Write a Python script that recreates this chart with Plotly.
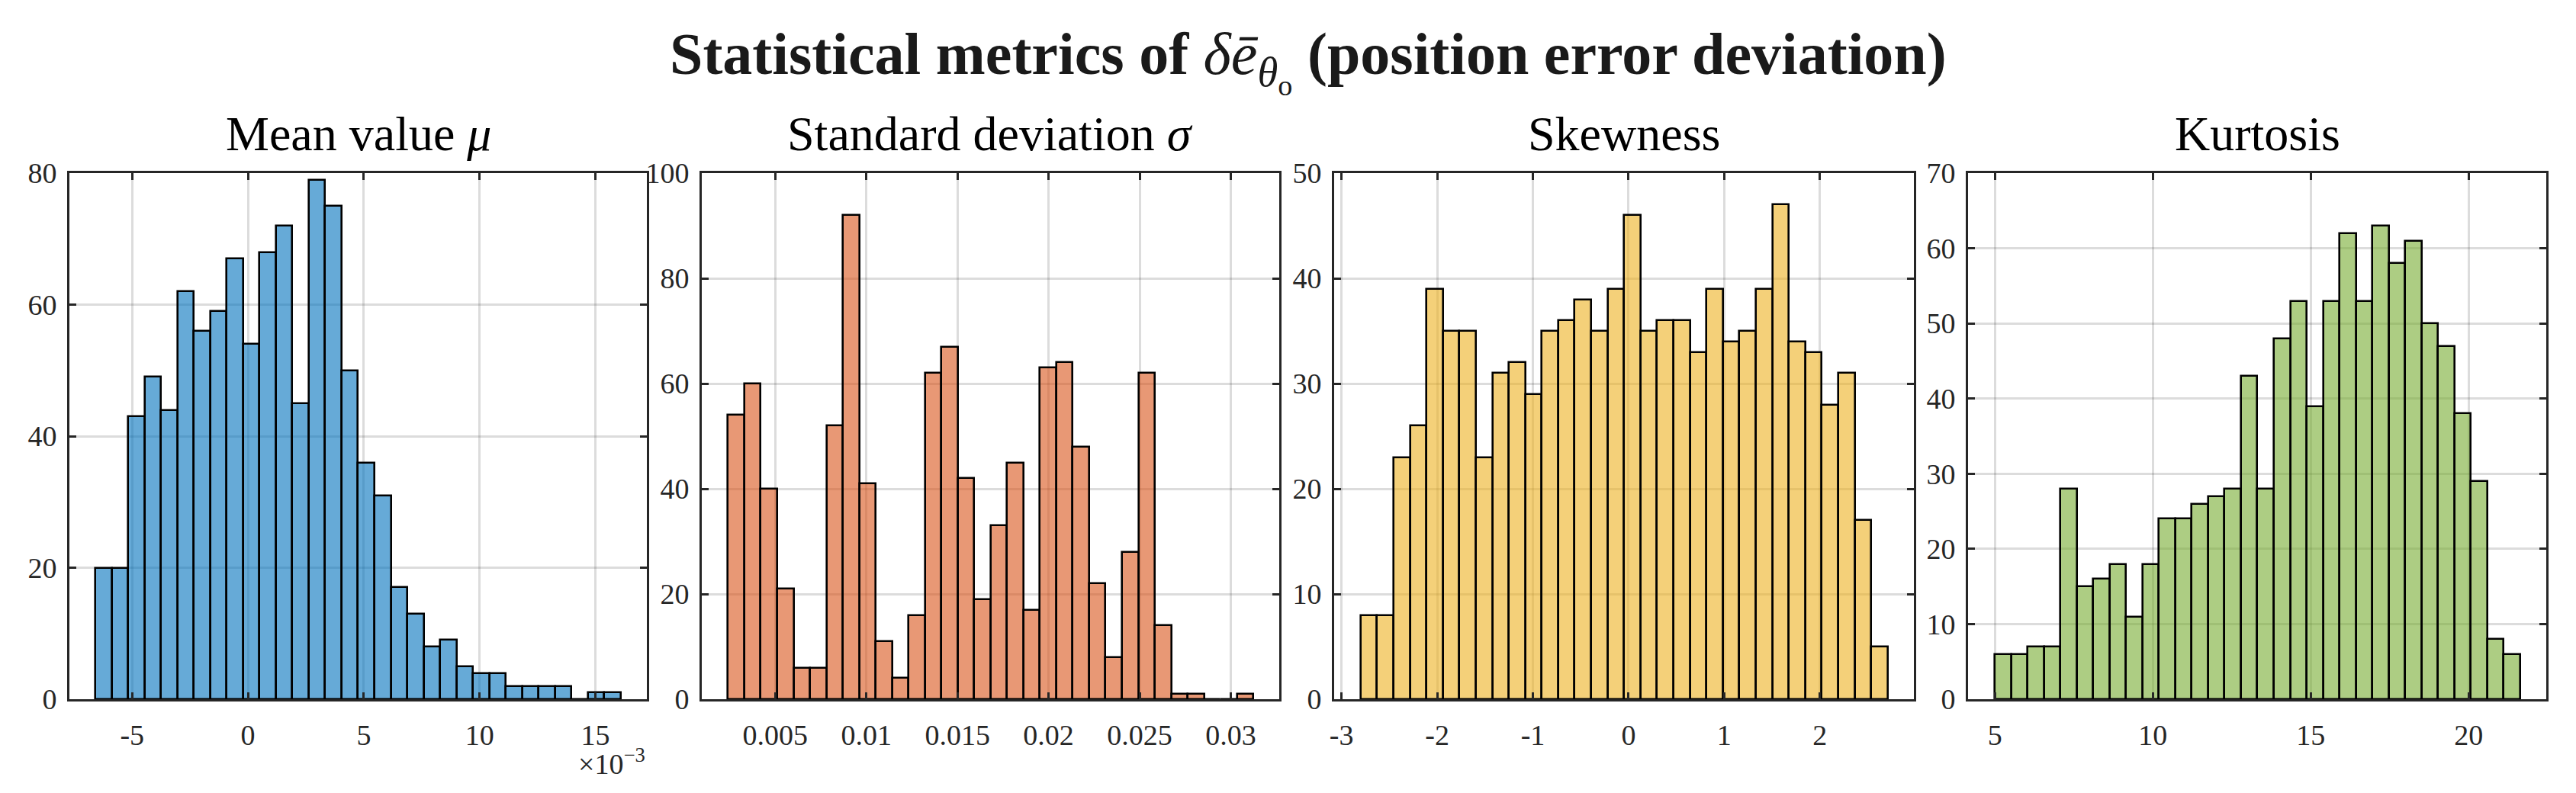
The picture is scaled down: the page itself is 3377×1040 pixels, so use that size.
import plotly.graph_objects as go

# ---------------- data ----------------
mean_bin_start = -0.00659
mean_bin_width = 0.000709
mean_counts = [20, 20, 43, 49, 44, 62, 56, 59, 67, 54, 68, 72, 45, 79, 75, 50,
               36, 31, 17, 13, 8, 9, 5, 4, 4, 2, 2, 2, 2, 0, 1, 1]

std_bin_start = 0.002412
std_bin_width = 0.000901
std_counts = [54, 60, 40, 21, 6, 6, 52, 92, 41, 11, 4, 16, 62, 67, 42, 19,
              33, 45, 17, 63, 64, 48, 22, 8, 28, 62, 14, 1, 1, 0, 0, 1]

skew_bin_start = -2.80
skew_bin_width = 0.1722
skew_counts = [8, 8, 23, 26, 39, 35, 35, 23, 31, 32, 29, 35, 36, 38, 35, 39,
               46, 35, 36, 36, 33, 39, 34, 35, 39, 47, 34, 33, 28, 31, 17, 5]

kurt_bin_start = 5.0
kurt_bin_width = 0.5198
kurt_counts = [6, 6, 7, 7, 28, 15, 16, 18, 11, 18, 24, 24, 26, 27, 28, 43,
               28, 48, 53, 39, 53, 62, 53, 63, 58, 61, 50, 47, 38, 29, 8, 6]

subplot_titles = ["Mean value <i>μ</i>", "Standard deviation <i>σ</i>", "Skewness", "Kurtosis"]
main_title = ("<b>Statistical metrics of </b><i>δē</i><sub><i>θ</i><sub>o</sub></sub>"
              "<b> (position error deviation)</b>")

mean_xticks = [-0.005, 0.0, 0.005, 0.010, 0.015]
mean_xticktext = ["-5", "0", "5", "10", "15"]
std_xticks = [0.005, 0.010, 0.015, 0.020, 0.025, 0.030]
std_xticktext = ["0.005", "0.01", "0.015", "0.02", "0.025", "0.03"]
skew_xticks = [-3, -2, -1, 0, 1, 2]
skew_xticktext = ["-3", "-2", "-1", "0", "1", "2"]
kurt_xticks = [5, 10, 15, 20]
kurt_xticktext = ["5", "10", "15", "20"]

mean_yticks = [0, 20, 40, 60, 80]
std_yticks = [0, 20, 40, 60, 80, 100]
skew_yticks = [0, 10, 20, 30, 40, 50]
kurt_yticks = [0, 10, 20, 30, 40, 50, 60, 70]

# ---------------- styling ----------------
W, H = 3377, 1040
ML, MR, MT, MB = 91, 39, 227, 123
FONT = "Liberation Serif"
AXC = "#262626"
TICK_SIZE = 38
colors = ["rgba(0,114,189,0.6)", "rgba(217,83,25,0.6)",
          "rgba(237,177,32,0.6)", "rgba(119,172,48,0.6)"]

pw = W - ML - MR
px_domains = [(0, 757), (829, 1586), (1658, 2418), (2489, 3247)]
domains = [(a / pw, b / pw) for a, b in px_domains]

panels = [
    (mean_bin_start, mean_bin_width, mean_counts, [-0.00771, 0.01722], [0, 80],
     mean_xticks, mean_xticktext, mean_yticks),
    (std_bin_start, std_bin_width, std_counts, [0.00097, 0.03266], [0, 100],
     std_xticks, std_xticktext, std_yticks),
    (skew_bin_start, skew_bin_width, skew_counts, [-3.077, 2.983], [0, 50],
     skew_xticks, skew_xticktext, skew_yticks),
    (kurt_bin_start, kurt_bin_width, kurt_counts, [4.15, 22.46], [0, 70],
     kurt_xticks, kurt_xticktext, kurt_yticks),
]

fig = go.Figure()
layout = dict(
    width=W, height=H,
    margin=dict(l=ML, r=MR, t=MT, b=MB, pad=0),
    paper_bgcolor="white", plot_bgcolor="white",
    showlegend=False, bargap=0,
    font=dict(family=FONT, size=TICK_SIZE, color=AXC),
)
annotations = []

for i, (start, bw, counts, xr, yr, xt, xtt, yt) in enumerate(panels):
    n = i + 1
    xa = "x" if n == 1 else f"x{n}"
    ya = "y" if n == 1 else f"y{n}"
    centers = [start + bw * (k + 0.5) for k in range(len(counts))]
    fig.add_trace(go.Bar(
        x=centers, y=counts, width=[bw] * len(counts),
        marker=dict(color=colors[i], line=dict(color="black", width=2.6)),
        xaxis=xa, yaxis=ya, hoverinfo="skip",
    ))
    common = dict(showline=True, linecolor=AXC, linewidth=2.6, mirror="allticks",
                  ticks="inside", ticklen=9, tickwidth=2.6, tickcolor=AXC,
                  showgrid=True, gridcolor="rgba(38,38,38,0.16)", gridwidth=2.6,
                  zeroline=False, tickfont=dict(family=FONT, size=TICK_SIZE, color=AXC))
    layout["xaxis" if n == 1 else f"xaxis{n}"] = dict(
        common, domain=list(domains[i]), range=xr, anchor=ya,
        tickmode="array", tickvals=xt, ticktext=xtt, ticklabelstandoff=12)
    layout["yaxis" if n == 1 else f"yaxis{n}"] = dict(
        common, domain=[0, 1], range=yr, anchor=xa,
        tickmode="array", tickvals=yt, ticktext=[str(v) for v in yt],
        ticklabelstandoff=6)
    annotations.append(dict(
        text=subplot_titles[i], xref="paper", yref="paper",
        x=(domains[i][0] + domains[i][1]) / 2, y=1, xanchor="center", yanchor="bottom",
        yshift=14, showarrow=False, font=dict(family=FONT, size=64, color="black")))

annotations.append(dict(
    text=main_title, xref="paper", yref="paper", x=0.5, y=1,
    xanchor="center", yanchor="bottom", yshift=92, showarrow=False,
    font=dict(family=FONT, size=78, color="#1a1a1a")))
annotations.append(dict(
    text="×10<sup>−3</sup>", xref="paper", yref="paper", x=domains[0][1], y=0,
    xanchor="right", yanchor="top", yshift=-56, showarrow=False,
    font=dict(family=FONT, size=TICK_SIZE, color=AXC)))

layout["annotations"] = annotations
fig.update_layout(**layout)

fig.write_html("out.html", config={"displayModeBar": False},
               post_script="document.body.style.margin='0';")
